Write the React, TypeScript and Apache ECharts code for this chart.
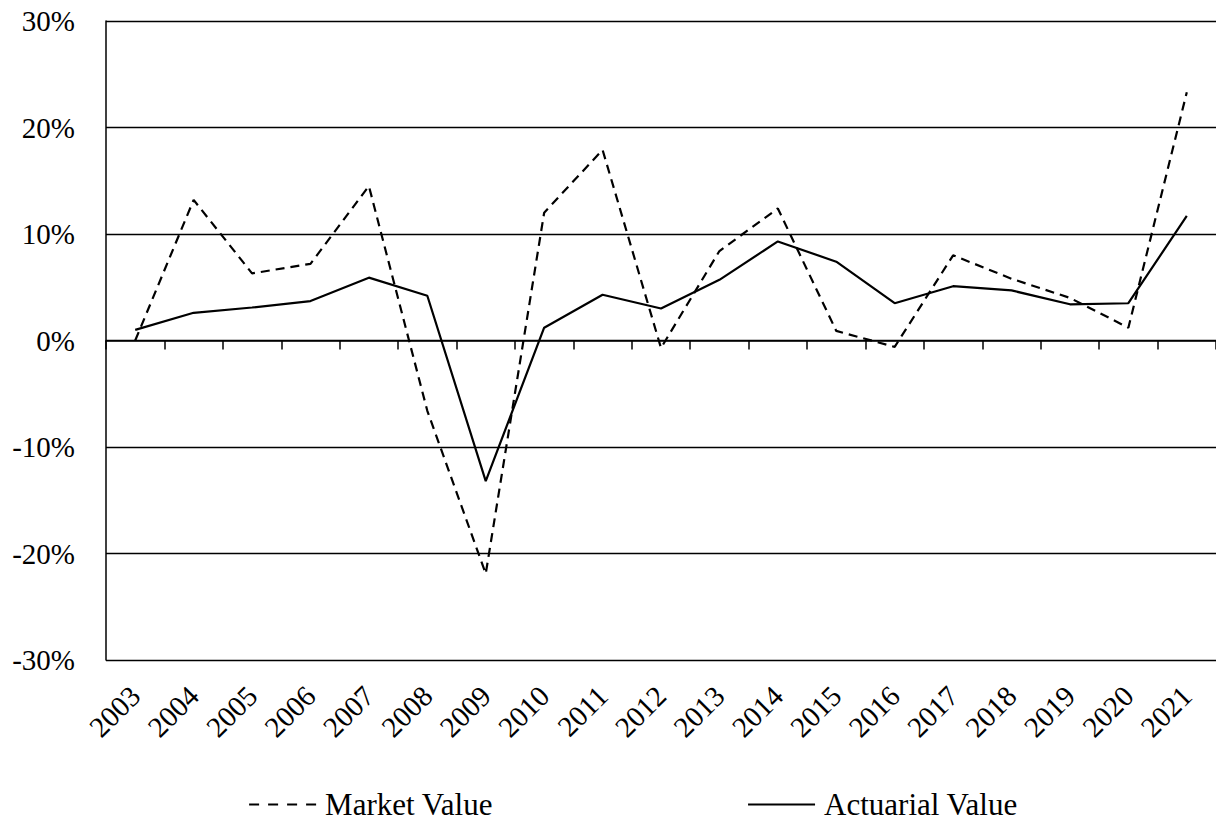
import React, { useEffect, useRef } from "react";
import * as echarts from "echarts";

const years = ["2003","2004","2005","2006","2007","2008","2009","2010","2011","2012","2013","2014","2015","2016","2017","2018","2019","2020","2021"];
const marketValue = [0.0, 13.2, 6.3, 7.2, 14.5, -6.6, -21.9, 12.0, 17.9, -0.7, 8.4, 12.4, 0.9, -0.6, 8.0, 5.8, 4.0, 1.2, 23.3];
const actuarialValue = [1.0, 2.6, 3.1, 3.7, 5.9, 4.2, -13.2, 1.2, 4.3, 3.0, 5.7, 9.3, 7.4, 3.5, 5.1, 4.7, 3.4, 3.5, 11.7];
const yTicks = { min: -30, max: 30, interval: 10 };

const FONT = "'Liberation Serif', 'Times New Roman', serif";

export default function App() {
  const ref = useRef<HTMLDivElement>(null);
  useEffect(() => {
    if (!ref.current) return;
    const chart = echarts.init(ref.current, undefined, { renderer: "svg" });
    chart.setOption({
      animation: false,
      backgroundColor: "#fff",
      textStyle: { fontFamily: FONT, color: "#000" },
      grid: { left: 106, top: 21, right: -1, bottom: 161, containLabel: false },
      legend: {
        left: 248,
        top: 789,
        padding: 0,
        itemWidth: 67,
        itemHeight: 14,
        itemGap: 254,
        itemStyle: { opacity: 0 },
        textStyle: { fontSize: 31, lineHeight: 31, color: "#000", fontFamily: FONT, padding: [0, 0, 0, 4] },
        data: [
          { name: "Market Value", lineStyle: { width: 2.2, type: [10, 9] } },
          { name: "Actuarial Value", lineStyle: { width: 2.2 } },
        ],
      },
      xAxis: [
        {
          type: "category",
          data: years,
          position: "bottom",
          boundaryGap: true,
          axisLine: { show: true, onZero: true, lineStyle: { color: "#000", width: 1.5 } },
          axisTick: { show: true, inside: false, length: 9, lineStyle: { color: "#000", width: 1.5 } },
          axisLabel: { show: false },
          splitLine: { show: false },
        },
        {
          type: "category",
          data: years,
          position: "bottom",
          boundaryGap: true,
          axisLine: { show: false, onZero: false },
          axisTick: { show: false },
          axisLabel: { show: true, rotate: 45, margin: 31, fontSize: 29, color: "#000", fontFamily: FONT, interval: 0 },
          splitLine: { show: false },
        },
      ],
      yAxis: {
        type: "value",
        min: yTicks.min,
        max: yTicks.max,
        interval: yTicks.interval,
        axisLine: { show: true, lineStyle: { color: "#000", width: 1.5 } },
        axisTick: { show: false },
        axisLabel: { formatter: "{value}%", fontSize: 29, color: "#000", fontFamily: FONT, margin: 31 },
        splitLine: { show: true, lineStyle: { color: "#000", width: 1.4 } },
      },
      series: [
        {
          name: "Market Value",
          type: "line",
          xAxisIndex: 0,
          data: marketValue,
          symbol: "none",
          lineStyle: { color: "#000", width: 2.2, type: [9, 6] },
          itemStyle: { color: "#000" },
        },
        {
          name: "Actuarial Value",
          type: "line",
          xAxisIndex: 0,
          data: actuarialValue,
          symbol: "none",
          lineStyle: { color: "#000", width: 2.2, type: "solid" },
          itemStyle: { color: "#000" },
        },
      ],
    });
    return () => chart.dispose();
  }, []);
  return <div ref={ref} style={{ position: "fixed", left: 0, top: 0, width: 1216, height: 821 }} />;
}
